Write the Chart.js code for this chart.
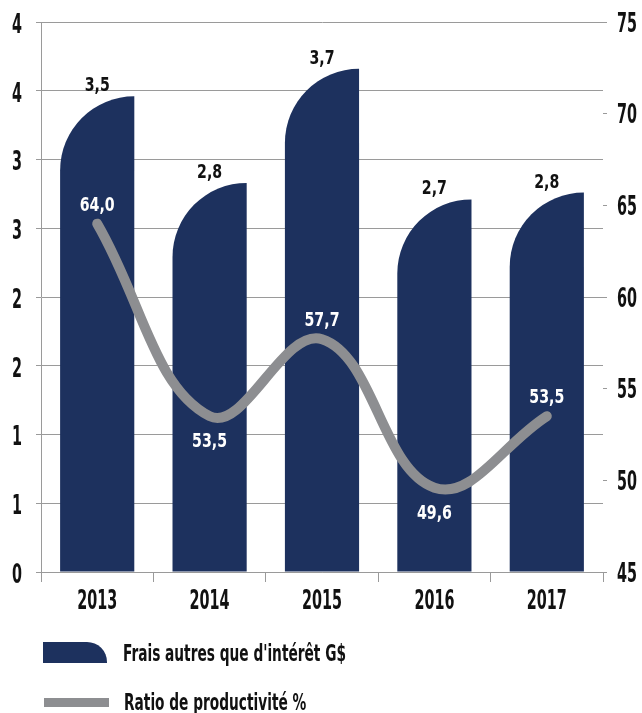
<!DOCTYPE html>
<html><head><meta charset="utf-8">
<script src="https://cdn.jsdelivr.net/npm/chart.js@4"></script>
<style>
html,body{margin:0;padding:0;background:#fff;}
#wrap{position:relative;width:642px;height:713px;overflow:hidden;}
#c{position:absolute;left:0;top:0;}
.sw{position:absolute;}
.lt{position:absolute;font-family:'Liberation Sans Narrow','DejaVu Sans Condensed','Roboto Condensed',sans-serif;font-weight:bold;font-size:23px;line-height:26px;color:#111;white-space:nowrap;transform-origin:0 50%;}
</style></head><body>
<div id="wrap">
<canvas id="c" width="642" height="713"></canvas>
<div class="sw" style="left:43px;top:642px;width:64px;height:21px;background:#1d315e;border-top-right-radius:20px 20px;"></div>
<div class="lt" id="lt1" style="left:123px;top:640px;">Frais autres que d'intérêt G$</div>
<div class="sw" style="left:44px;top:698px;width:65px;height:9px;background:#8d8e91;"></div>
<div class="lt" id="lt2" style="left:124px;top:689px;">Ratio de productivité %</div>
</div>
<script>
const categories = ['2013', '2014', '2015', '2016', '2017'];
const fraisValues = [3.46, 2.83, 3.66, 2.71, 2.76];
const ratioValues = [64.0, 53.5, 57.7, 49.6, 53.5];
const ratioLabelSide = ['above', 'below', 'above', 'below', 'above'];

const FONT = "'Liberation Sans Narrow','DejaVu Sans Condensed','Roboto Condensed',sans-serif";
const BAR_COLOR = '#1d315e';
const LINE_COLOR = '#8d8e91';
const GRID_COLOR = '#9a9a9a';
const TICK_SIZE = 26, DATA_SIZE = 20, LEGEND_SIZE = 23;

function fmt1(v) { return v.toFixed(1).replace('.', ','); }

// condensed look: horizontal text compression measured against the reference widths
const canvas = document.getElementById('c');
const ctx = canvas.getContext('2d');
function measure(txt, size) { ctx.font = 'bold ' + size + 'px ' + FONT; return ctx.measureText(txt).width; }
const TICK_SX = 70 / measure('2013754', TICK_SIZE);
const DATA_SX = 35 / measure('64,0', DATA_SIZE);
const LEG_SX = 223 / measure("Frais autres que d'intérêt G$", LEGEND_SIZE);
document.getElementById('lt1').style.transform = 'scaleX(' + LEG_SX + ')';
document.getElementById('lt2').style.transform = 'scaleX(' + LEG_SX + ')';

const origFill = ctx.fillText.bind(ctx);
ctx.fillText = function (text, x, y, maxWidth) {
  const m = /(\d+(?:\.\d+)?)px/.exec(this.font);
  const size = m ? parseFloat(m[1]) : 0;
  const sx = size >= 24 ? TICK_SX : DATA_SX;
  this.save();
  this.translate(x, y);
  this.scale(sx, 1);
  origFill(text, 0, 0);
  this.restore();
};

const roundBarPlugin = {
  id: 'roundBar',
  beforeDatasetDraw(chart, args) {
    if (args.meta.type !== 'bar') return;
    const c = chart.ctx;
    c.save();
    c.fillStyle = BAR_COLOR;
    args.meta.data.forEach(el => {
      const p = el.getProps(['x', 'y', 'base', 'width'], true);
      const left = p.x - p.width / 2, right = p.x + p.width / 2;
      const r = Math.min(p.width, p.base - p.y);
      c.beginPath();
      c.moveTo(left, p.base);
      c.lineTo(left, p.y + r);
      c.arc(right, p.y + r, r, Math.PI, 1.5 * Math.PI);
      c.lineTo(right, p.base);
      c.closePath();
      c.fill();
    });
    c.restore();
    return false;
  }
};

const labelPlugin = {
  id: 'valueLabels',
  afterDatasetsDraw(chart) {
    const c = chart.ctx;
    c.save();
    c.textAlign = 'center';
    c.textBaseline = 'alphabetic';
    c.font = 'bold ' + DATA_SIZE + 'px ' + FONT;
    chart.getDatasetMeta(0).data.forEach((el, i) => {
      c.fillStyle = '#111';
      c.fillText(fmt1(fraisValues[i]), el.x, el.y - 5);
    });
    chart.getDatasetMeta(1).data.forEach((el, i) => {
      c.fillStyle = '#ffffff';
      const yy = ratioLabelSide[i] === 'above' ? el.y - 13 : el.y + 31;
      c.fillText(fmt1(ratioValues[i]), el.x, yy);
    });
    c.restore();
  }
};

Chart.defaults.font.family = FONT;
Chart.defaults.font.weight = 'bold';
Chart.defaults.color = '#111';

new Chart(canvas, {
  data: {
    labels: categories,
    datasets: [
      {
        type: 'bar',
        label: "Frais autres que d'intérêt G$",
        data: fraisValues,
        backgroundColor: BAR_COLOR,
        yAxisID: 'y',
        categoryPercentage: 1,
        barPercentage: 0.66,
        order: 1
      },
      {
        type: 'line',
        label: 'Ratio de productivité %',
        data: ratioValues,
        borderColor: LINE_COLOR,
        borderWidth: 10,
        tension: 0.4,
        borderCapStyle: 'round',
        borderJoinStyle: 'round',
        pointRadius: 0,
        yAxisID: 'y1',
        order: 0,
        clip: false
      }
    ]
  },
  options: {
    responsive: false,
    animation: false,
    devicePixelRatio: 1,
    layout: { padding: { top: 22, bottom: 96, left: 0, right: 0 } },
    plugins: { legend: { display: false }, tooltip: { enabled: false } },
    scales: {
      x: {
        offset: true,
        grid: { offset: true, drawOnChartArea: false, drawTicks: true, tickLength: 10, color: GRID_COLOR },
        border: { display: true, color: GRID_COLOR },
        ticks: { font: { size: TICK_SIZE, weight: 'bold' }, padding: 5, color: '#111', maxRotation: 0, autoSkip: false },
        afterFit(s) { s.height = 45; s.paddingLeft = 0; s.paddingRight = 0; }
      },
      y: {
        position: 'left',
        min: 0, max: 4,
        ticks: { stepSize: 0.5, font: { size: TICK_SIZE, weight: 'bold' }, padding: 14, labelOffset: 4, color: '#111',
          callback: v => String(Math.round(v)) },
        grid: { color: GRID_COLOR, tickLength: 5 },
        border: { display: true, color: GRID_COLOR },
        afterFit(s) { s.width = 41; s.paddingTop = 0; s.paddingBottom = 0; }
      },
      y1: {
        position: 'right',
        min: 45, max: 75,
        ticks: { stepSize: 5, font: { size: TICK_SIZE, weight: 'bold' }, padding: 10, labelOffset: 3, color: '#111' },
        grid: { drawOnChartArea: false, color: GRID_COLOR, tickLength: 4 },
        border: { display: false },
        afterFit(s) { s.width = 39; s.paddingTop = 0; s.paddingBottom = 0; }
      }
    }
  },
  plugins: [roundBarPlugin, labelPlugin]
});
</script>
</body></html>
